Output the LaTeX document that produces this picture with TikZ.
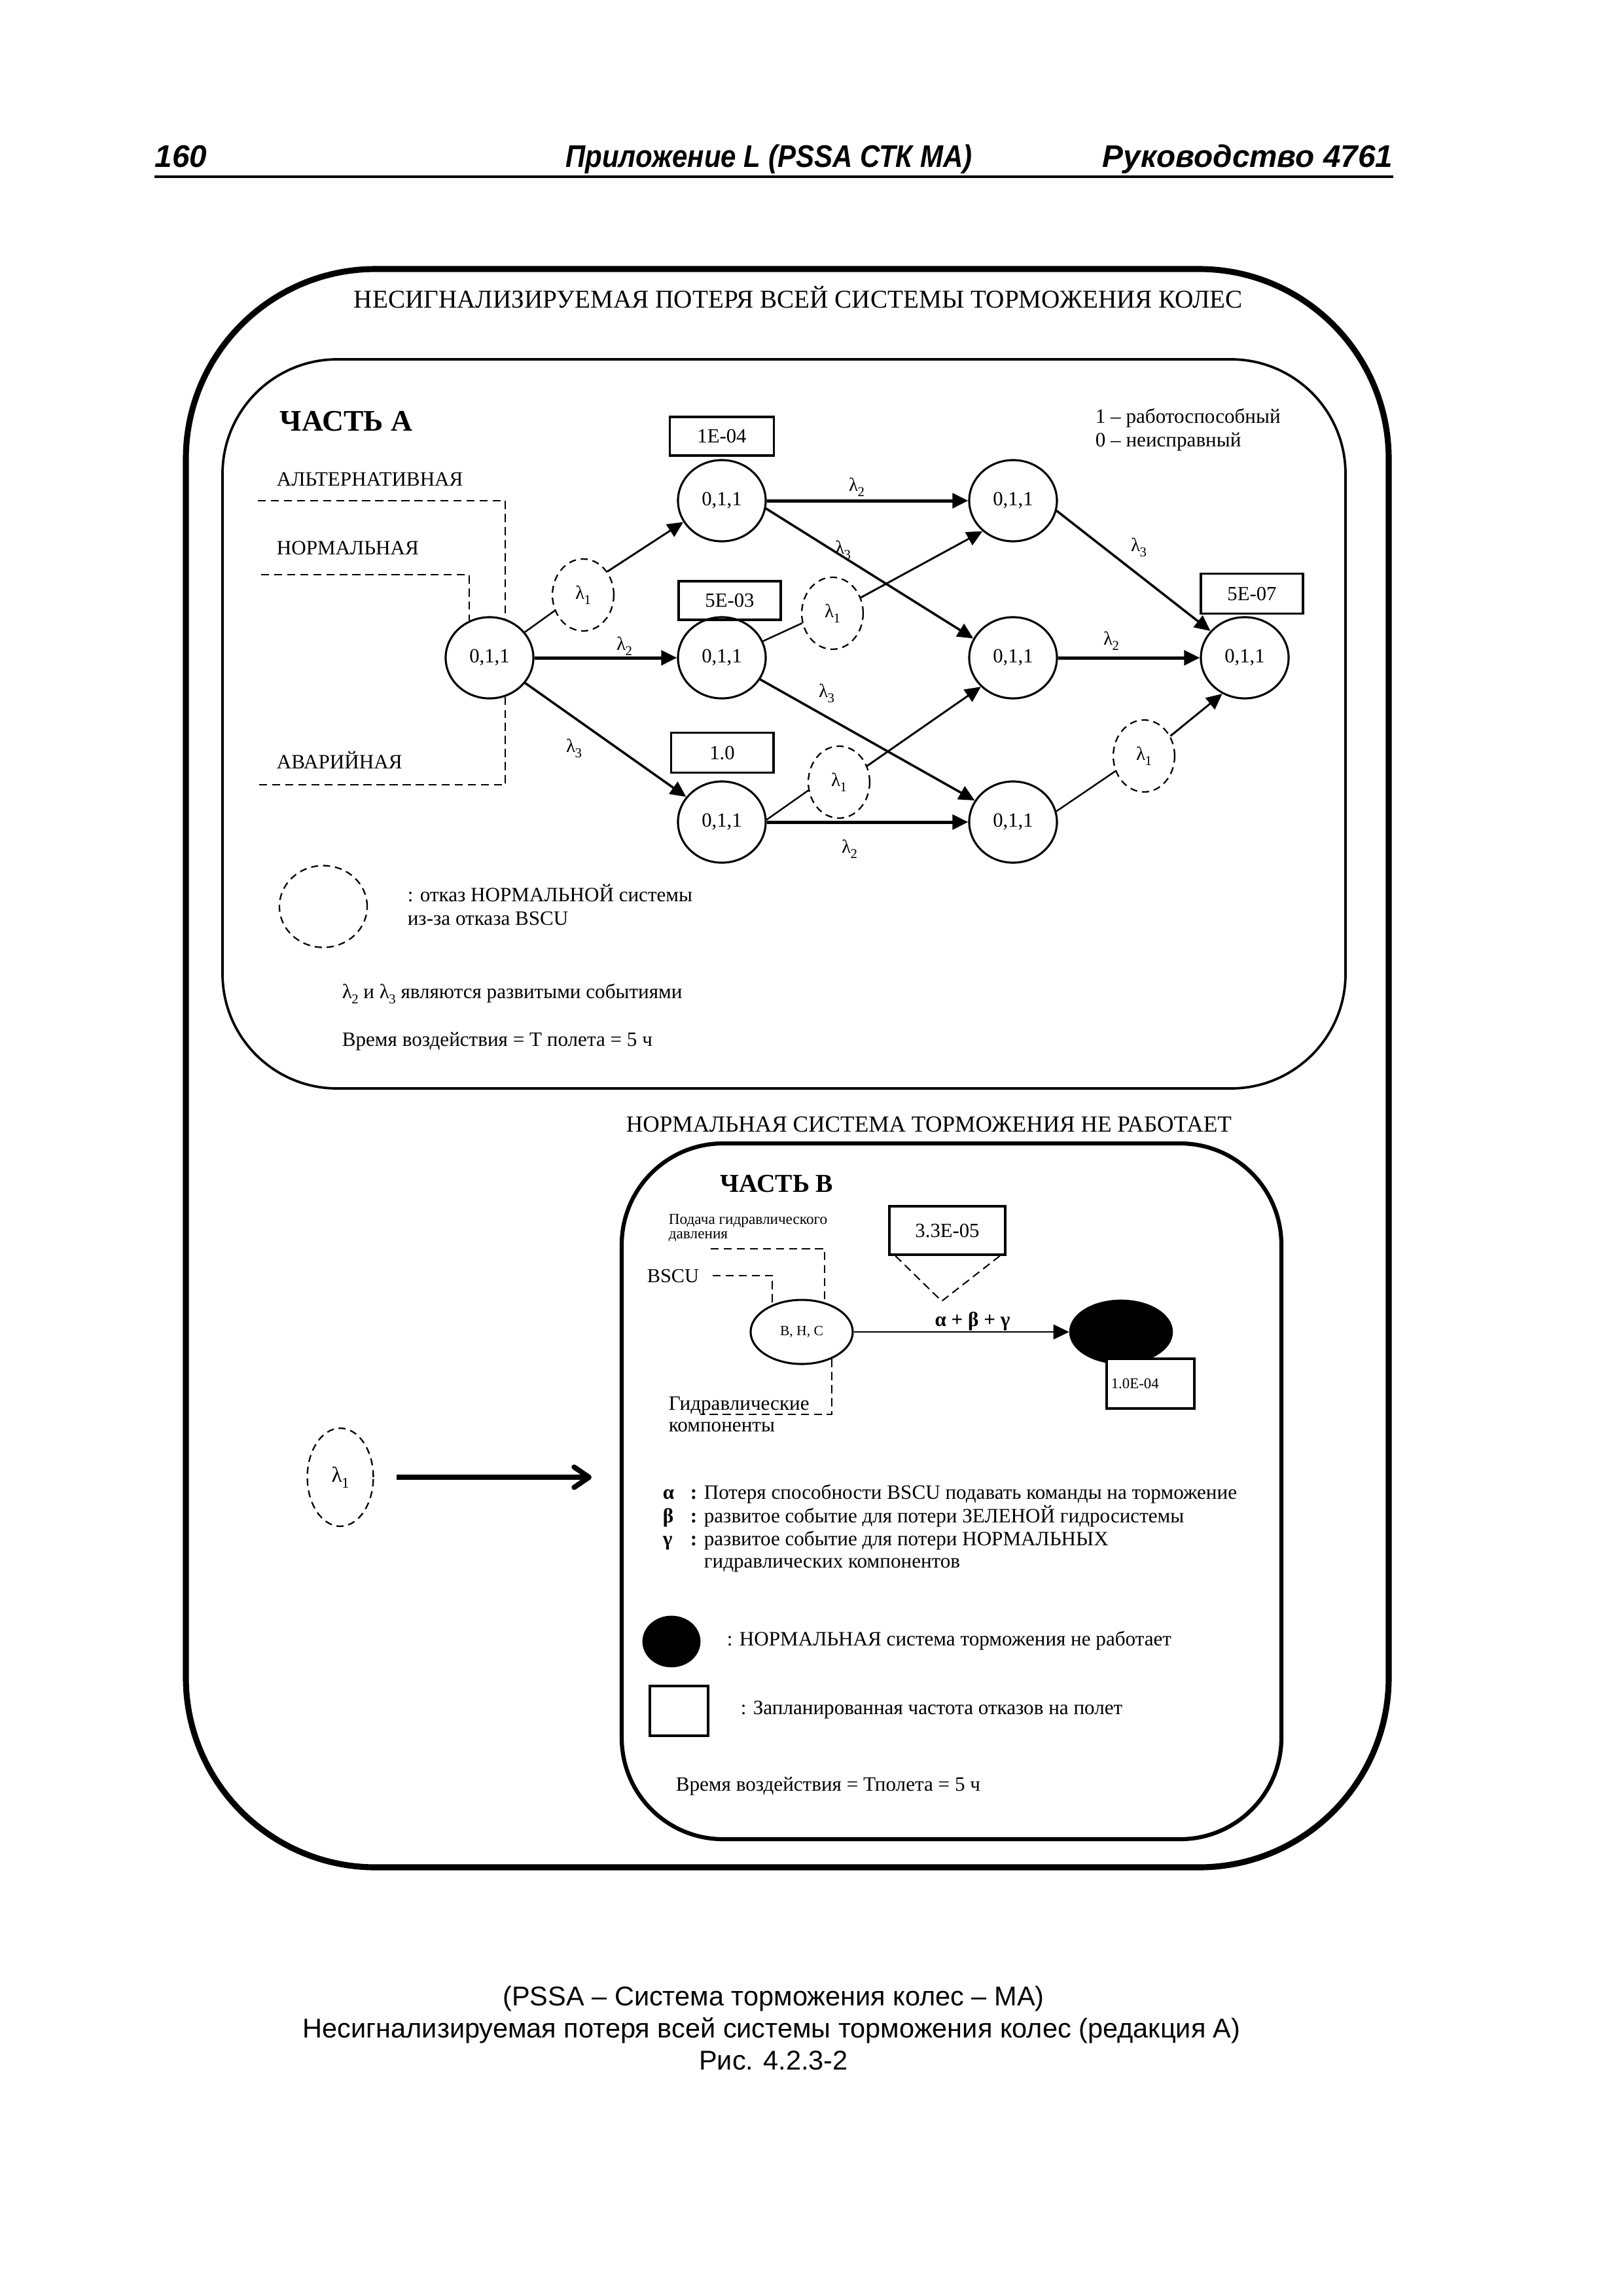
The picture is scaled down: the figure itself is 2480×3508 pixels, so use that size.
\documentclass[tikz,border=0pt]{standalone}
\usepackage{fontspec}
\setmainfont{Liberation Serif}
\newfontfamily\arialf{Liberation Sans}
\newfontfamily\arialn[FakeStretch=0.88]{Liberation Sans}
\usetikzlibrary{shapes.geometric,arrows.meta}
\newcommand\fsz[1]{\fontsize{#1}{#1}\selectfont}
\newcommand\lamb[2][5]{λ\kern-0.02em\raisebox{-0.28em}{\fsz{#1}#2}}
\tikzset{
  txt/.style={inner sep=0pt, anchor=base west, font=\fsz{7.5}},
  hdr/.style={inner sep=0pt, font=\arialf\bfseries\itshape\fsz{11.5}},
  capt/.style={inner sep=0pt, anchor=base, font=\arialf\fsz{10}},
  st/.style={ellipse, draw, line width=0.75pt, minimum width=32.3pt, minimum height=29.9pt, inner sep=0pt, font=\fsz{7.4}},
  lamone/.style={ellipse, draw, line width=0.55pt, dash pattern=on 2.6pt off 1.8pt, minimum width=22.6pt, minimum height=26.5pt, inner sep=0pt, font=\fsz{7}},
  pbox/.style={rectangle, draw, line width=0.75pt, inner sep=0pt, font=\fsz{7.4}},
  dsh/.style={line width=0.5pt, dash pattern=on 3pt off 1.8pt},
  tip/.style={-{Triangle[length=5.8pt,width=5.4pt]}},
  conA/.style={line width=0.6pt},
  arrA/.style={tip, line width=0.7pt},
  arrM/.style={tip, line width=0.85pt},
  arrT/.style={tip, line width=1.2pt},
  lbl/.style={inner sep=0pt, font=\fsz{7}},
}
\begin{document}
\begin{tikzpicture}[x=0.24094pt,y=-0.24094pt]
\useasboundingbox (0,0) rectangle (2480,3508);
\fill[white] (0,0) rectangle (2480,3508);

% header
\node[hdr, anchor=base west] (pg) at (236,255) {160};
\node[hdr, anchor=base, font=\arialn\bfseries\itshape\fsz{11.5}] (app) at (1175,255) {Приложение L (PSSA СТК МА)};
\node[hdr, anchor=base east] (man) at (2129,255) {Руководство 4761};
\draw[line width=1.1pt] (236,270) -- (2129,270);

% outer frame
\draw[line width=2.2pt, rounded corners=69.9pt] (284,411) rectangle (2122,2853);
\node[txt, anchor=base, font=\fsz{9.45}] (title) at (1220,470) {НЕСИГНАЛИЗИРУЕМАЯ ПОТЕРЯ ВСЕЙ СИСТЕМЫ ТОРМОЖЕНИЯ КОЛЕС};

% ---------- Part A ----------
\draw[line width=0.9pt, rounded corners=42.2pt] (340,549) rectangle (2056,1663);
\node[txt, font=\bfseries\fsz{11}] (partA) at (427,658) {ЧАСТЬ А};
\node[txt] (leg1) at (1673,646) {1 – работоспособный};
\node[txt] (leg0) at (1673,682) {0 – неисправный};
\node[txt] (alt) at (422,742) {АЛЬТЕРНАТИВНАЯ};
\node[txt] (nrm) at (422,847) {НОРМАЛЬНАЯ};
\node[txt] (emg) at (422,1174) {АВАРИЙНАЯ};

\node[st] (S0) at (748,1005) {0,1,1};
\node[st] (A1) at (1103,765) {0,1,1};
\node[st] (A2) at (1103,1005) {0,1,1};
\node[st] (A3) at (1103,1256) {0,1,1};
\node[st] (B1) at (1548,765) {0,1,1};
\node[st] (B2) at (1548,1005) {0,1,1};
\node[st] (B3) at (1548,1256) {0,1,1};
\node[st] (C) at (1902,1005) {0,1,1};

\node[pbox, minimum width=38.1pt, minimum height=14.2pt] (pA1) at (1103,666.5) {1E-04};
\node[pbox, minimum width=37.6pt, minimum height=14.2pt] (pA2) at (1115,917.5) {5E-03};
\node[pbox, minimum width=37.8pt, minimum height=14.5pt] (pA3) at (1103.5,1150) {1.0};
\node[pbox, minimum width=37.6pt, minimum height=14.5pt] (pC) at (1913,907) {5E-07};

\node[lamone] (L1a) at (891,909) {\lamb{1}};
\node[lamone] (L1b) at (1272,937) {\lamb{1}};
\node[lamone] (L1c) at (1282,1195) {\lamb{1}};
\node[lamone] (L1d) at (1748,1155) {\lamb{1}};

\coordinate (altE) at (394,765);
\coordinate (nrmE) at (399,878);
\coordinate (emgE) at (394,1199);
\draw[dsh] (altE) -| (S0.68);
\draw[dsh] (nrmE) -| (S0.119);
\draw[dsh] (S0.-68) |- (emgE);

\draw[conA] (S0.36) -- (L1a.209);
\draw[arrA] (L1a.44) -- (A1.209);
\draw[arrT] (S0) -- (A2);
\draw[arrM] (S0) -- (A3);
\draw[arrT] (A1) -- (B1);
\draw[arrM] (A1.-10) -- (B2.154);
\draw[conA] (A2.22) -- (L1b.198);
\draw[arrA] (L1b.29) -- (B1.225);
\draw[arrM] (A2) -- (B3);
\draw[conA] (A3.3) -- (L1c.195);
\draw[arrA] (L1c.30) -- (B2.222);
\draw[arrT] (A3) -- (B3);
\draw[arrM] (B1.-13) -- (C.142);
\draw[arrT] (B2) -- (C);
\draw[conA] (B3.14) -- (L1d.208);
\draw[arrA] (L1d.37) -- (C.238);

\node[lbl] (e1) at (954,987) {\lamb{2}};
\node[lbl] (e2) at (877,1143) {\lamb{3}};
\node[lbl] (e3) at (1309,744) {\lamb{2}};
\node[lbl] (e4) at (1288,840) {\lamb{3}};
\node[lbl] (e5) at (1263,1059) {\lamb{3}};
\node[lbl] (e6) at (1298,1297) {\lamb{2}};
\node[lbl] (e7) at (1740,836) {\lamb{3}};
\node[lbl] (e8) at (1698,979) {\lamb{2}};

\node[lamone, minimum width=32.3pt, minimum height=30.1pt] (legE) at (494,1385) {};
\node[txt] (legT1) at (622,1377) {: отказ НОРМАЛЬНОЙ системы};
\node[txt] (legT2) at (622,1413) {из-за отказа BSCU};
\node[txt] (devt) at (522,1525) {\lamb{2} и \lamb{3} являются развитыми событиями};
\node[txt] (timeA) at (522,1598) {Время воздействия = Т полета = 5 ч};

% ---------- Part B ----------
\node[txt, font=\fsz{8.5}] (nbrk) at (956,1729) {НОРМАЛЬНАЯ СИСТЕМА ТОРМОЖЕНИЯ НЕ РАБОТАЕТ};
\draw[line width=1.5pt, rounded corners=37.3pt] (950,1747) rectangle (1958,2810);
\node[txt, font=\bfseries\fsz{9.5}] (partB) at (1100,1821) {ЧАСТЬ В};
\node[txt, font=\fsz{5.6}] (hp1) at (1021,1870) {Подача гидравлического};
\node[txt, font=\fsz{5.6}] (hp2) at (1021,1892) {давления};
\node[txt, font=\fsz{7.3}] (bscu) at (988,1959) {BSCU};
\node[ellipse, draw, line width=0.75pt, minimum width=37.6pt, minimum height=23.6pt, inner sep=0pt, font=\fsz{5.2}] (BHC) at (1225,2035) {В, Н, С};
\coordinate (hpE) at (1086,1908);
\coordinate (bsE) at (1089,1949);
\coordinate (hcE) at (1070,2161);
\draw[dsh] (hpE) -| (BHC.52);
\draw[dsh] (bsE) -| (BHC.137);
\draw[dsh] (BHC.-42) |- (hcE);
\node[txt] (hc1) at (1021,2154) {Гидравлические};
\node[txt] (hc2) at (1021,2187) {компоненты};

\node[pbox, line width=0.9pt, minimum width=42.6pt, minimum height=17.8pt] (p33) at (1447.5,1880) {3.3E-05};
\coordinate (triP) at (1439,1988);
\draw[dsh] ([xshift=2.65pt]p33.south west) -- (triP) -- ([xshift=-2.4pt]p33.south east);

\node[ellipse, draw, fill=black, minimum width=37.8pt, minimum height=23.4pt, inner sep=0pt] (BLK) at (1713,2035) {};
\draw[arrA] (BHC) -- (BLK);
\node[lbl, font=\bfseries\fsz{7.5}] (abg) at (1486,2019) {α + β + γ};
\node[pbox, fill=white, line width=0.9pt, minimum width=32.3pt, minimum height=18.3pt, text width=29pt, align=left, font=\fsz{5.5}] (p10) at (1758,2114) {1.0E-04};

\node[ellipse, draw, line width=0.55pt, dash pattern=on 2.6pt off 1.8pt, minimum width=24.3pt, minimum height=36.1pt, inner sep=0pt, font=\fsz{8}] (L1B) at (520,2257) {\lamb[5.5]{1}};
\coordinate (bArrE) at (904,2257);
\draw[line width=1.9pt, -{Straight Barb[length=5.5pt,width=7.5pt,round]}, shorten <=8.4pt] (L1B.east) -- (bArrE);

\node[txt, font=\bfseries\fsz{7.5}] (ga) at (1012,2290) {α};
\node[txt, font=\bfseries\fsz{7.5}] (gac) at (1054,2290) {:};
\node[txt] (gaT) at (1075,2290) {Потеря способности BSCU подавать команды на торможение};
\node[txt, font=\bfseries\fsz{7.5}] (gb) at (1012,2326) {β};
\node[txt, font=\bfseries\fsz{7.5}] (gbc) at (1054,2326) {:};
\node[txt] (gbT) at (1075,2326) {развитое событие для потери ЗЕЛЕНОЙ гидросистемы};
\node[txt, font=\bfseries\fsz{7.5}] (gg) at (1012,2361) {γ};
\node[txt, font=\bfseries\fsz{7.5}] (ggc) at (1054,2361) {:};
\node[txt] (ggT) at (1075,2361) {развитое событие для потери НОРМАЛЬНЫХ};
\node[txt] (ggT2) at (1075,2395) {гидравлических компонентов};

\node[ellipse, fill=black, minimum width=21.4pt, minimum height=19pt, inner sep=0pt] (legBlk) at (1026,2508) {};
\node[txt] (legBlkT) at (1110,2514) {: НОРМАЛЬНАЯ система торможения не работает};
\node[rectangle, draw, line width=0.9pt, minimum width=21.4pt, minimum height=18.3pt, inner sep=0pt] (legSq) at (1037.5,2614) {};
\node[txt] (legSqT) at (1131,2619) {: Запланированная частота отказов на полет};
\node[txt] (timeB) at (1032,2736) {Время воздействия = Тполета = 5 ч};

% caption
\node[capt] (c1) at (1182,3064) {(PSSA – Система торможения колес – МА)};
\node[capt] (c2) at (1179,3113) {Несигнализируемая потеря всей системы торможения колес (редакция А)};
\node[capt] (c3) at (1182,3162) {Рис. 4.2.3-2};
\end{tikzpicture}
\end{document}
